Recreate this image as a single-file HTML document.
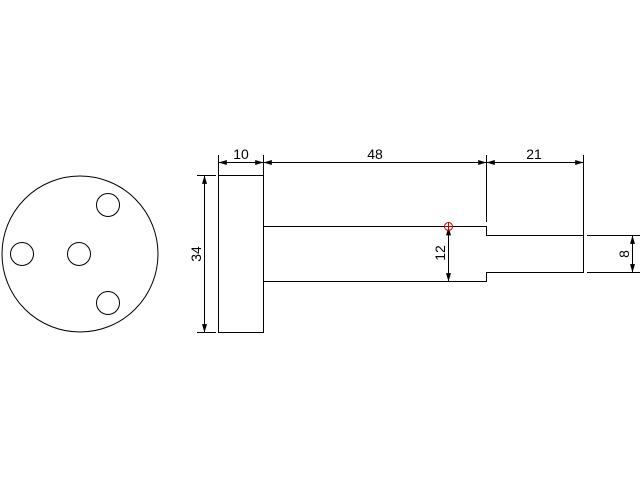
<!DOCTYPE html>
<html><head><meta charset="utf-8"><style>
html,body{margin:0;padding:0;background:#fff;}
svg{display:block;}
text{font-family:"Liberation Sans","DejaVu Sans",sans-serif;font-size:14px;fill:#000;}
</style></head><body>
<svg width="640" height="480" viewBox="0 0 640 480" xmlns="http://www.w3.org/2000/svg">
<defs>
<marker id="a" viewBox="0 0 10 6" refX="10" refY="3" markerWidth="14" markerHeight="5" markerUnits="userSpaceOnUse" orient="auto-start-reverse">
<path d="M0,0 L10,3 L0,6 z" fill="#000"/>
</marker>
</defs>
<g fill="none" stroke="#000" stroke-width="1">
<!-- end view -->
<circle cx="80" cy="254" r="78"/>
<circle cx="22" cy="254" r="11.5"/>
<circle cx="79" cy="254" r="11.5"/>
<circle cx="108" cy="205" r="11.5"/>
<circle cx="108" cy="303" r="11.5"/>
<!-- side view -->
<rect x="218.5" y="175.5" width="45" height="157"/>
<path d="M263.5 226.5 H486.5 V235.5 H583.5 V272.5 H486.5 V281.5 H263.5"/>
<!-- extension lines -->
<path d="M218.5 155 V175 M263.5 155 V175 M486.5 155 V222 M583.5 155 V268 M197 175.5 H216 M197 332.5 H216 M587 235.5 H640 M587 272.5 H640"/>
<!-- dimension lines -->
<path d="M218.5 162.5 H263.5" marker-start="url(#a)" marker-end="url(#a)"/>
<path d="M263.5 162.5 H486.5" marker-start="url(#a)" marker-end="url(#a)"/>
<path d="M486.5 162.5 H583.5" marker-start="url(#a)" marker-end="url(#a)"/>
<path d="M204.5 175.5 V332.5" marker-start="url(#a)" marker-end="url(#a)"/>
<path d="M448.5 227 V281.5" marker-start="url(#a)" marker-end="url(#a)"/>
<path d="M632.5 235.5 V272.5" marker-start="url(#a)" marker-end="url(#a)"/>
</g>
<circle cx="448.5" cy="226.5" r="4" fill="none" stroke="#b00" stroke-width="1"/>
<path d="M444.5 226.5 H452.5 M448.5 222.5 V230.5" stroke="#b00" stroke-width="1"/>
<text x="241" y="159" text-anchor="middle">10</text>
<text x="375" y="159" text-anchor="middle">48</text>
<text x="534" y="159" text-anchor="middle">21</text>
<text transform="translate(201,254) rotate(-90)" text-anchor="middle">34</text>
<text transform="translate(445,253) rotate(-90)" text-anchor="middle">12</text>
<text transform="translate(629,254) rotate(-90)" text-anchor="middle">8</text>
</svg>
</body></html>
